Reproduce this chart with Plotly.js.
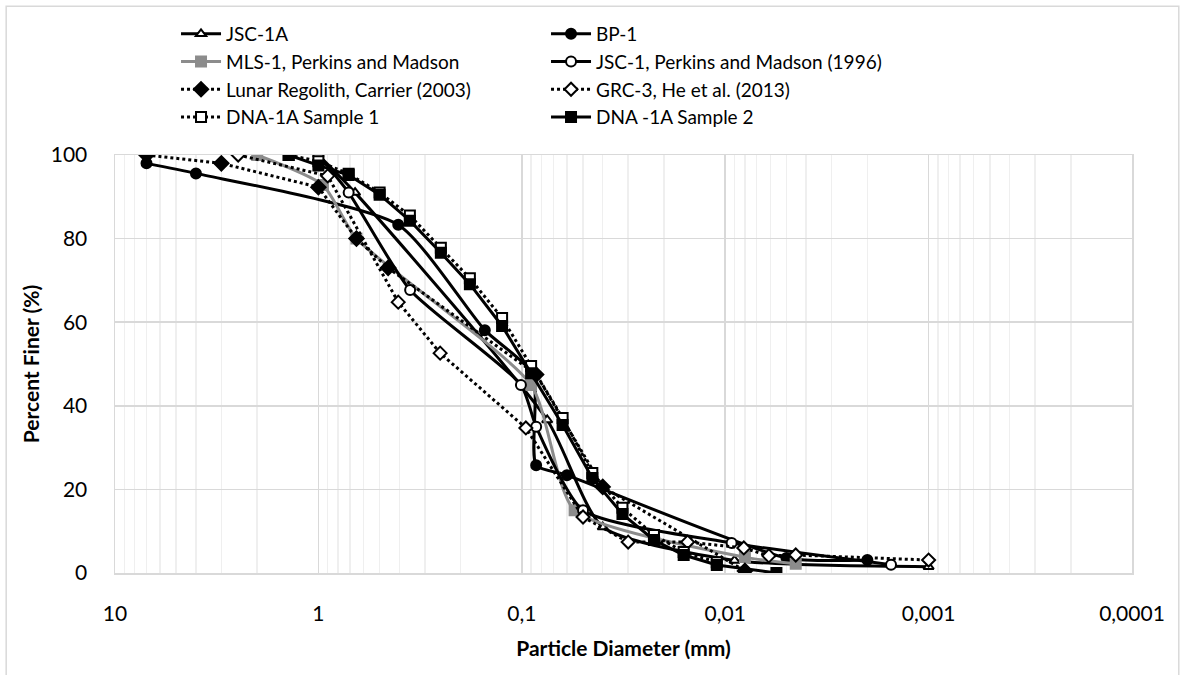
<!DOCTYPE html>
<html>
<head>
<meta charset="utf-8">
<script src="https://cdn.plot.ly/plotly-3.0.1.min.js"></script>
<style>html,body{margin:0;padding:0;background:#fff}#chart{width:1184px;height:675px}</style>
</head>
<body>
<div id="chart"></div>
<script>
// Tick labels (comma decimal separator as in the reference)
const xTickVals = [10, 1, 0.1, 0.01, 0.001, 0.0001];
const xTickText = ['10', '1', '0,1', '0,01', '0,001', '0,0001'];

// Series: particle diameter (mm) and percent finer (%)
const jsc1aX = [1.0, 0.66, 0.075, 0.04, 0.009, 0.001];
const jsc1aY = [100, 91, 36.6, 11, 3, 1.5];

const bp1X = [7.0, 4.0, 0.405, 0.152, 0.088, 0.085, 0.06, 0.005, 0.002];
const bp1Y = [98, 95.6, 83.3, 58.1, 47.5, 25.8, 23.4, 3.6, 3.1];

const mls1X = [2.0, 0.95, 0.65, 0.09, 0.055, 0.008, 0.0045];
const mls1Y = [100, 92.8, 80, 45, 15, 3.8, 2.2];

const jsc1X = [1.0, 0.71, 0.354, 0.101, 0.085, 0.05, 0.0093, 0.00153];
const jsc1Y = [100, 91, 67.7, 45, 35, 15, 7.2, 2];

const lunarX = [7.0, 3.0, 1.0, 0.65, 0.454, 0.085, 0.04, 0.008];
const lunarY = [100, 98, 92.3, 80, 73, 47.5, 20.6, 0.5];

const grc3X = [2.48, 0.9, 0.405, 0.252, 0.0955, 0.05, 0.03, 0.0153, 0.0081, 0.0061, 0.0045, 0.001];
const grc3Y = [100, 95, 64.8, 52.6, 34.7, 13.4, 7.4, 7.4, 6.0, 4.1, 4.3, 3.1];

const dna1X = [1.4, 1.0, 0.71, 0.5, 0.355, 0.25, 0.18, 0.125, 0.09, 0.063, 0.045, 0.032, 0.0224, 0.016, 0.011];
const dna1Y = [100, 98.5, 95.5, 91, 85.5, 77.8, 70.5, 61, 49.5, 37.1, 23.9, 15.6, 9.1, 5.0, 2.6];

const dna2X = [1.4, 1.0, 0.71, 0.5, 0.355, 0.25, 0.18, 0.125, 0.09, 0.063, 0.045, 0.032, 0.0224, 0.016, 0.011, 0.0056];
const dna2Y = [100, 97.5, 95.2, 90.5, 84.3, 76.6, 69.1, 59.1, 47.8, 35.4, 22.7, 14.1, 7.9, 4.3, 1.9, 0];

const names = ['JSC-1A', 'BP-1', 'MLS-1, Perkins and Madson', 'JSC-1, Perkins and Madson (1996)',
  'Lunar Regolith, Carrier (2003)', 'GRC-3, He et al. (2013)', 'DNA-1A Sample 1', 'DNA -1A Sample 2'];

const BLACK = '#000000', GRAY = '#8c8c8c';
function tr(x, y, name, color, dash, symbol, mfill, shape, msize) {
  return {
    x: x, y: y, name: name, type: 'scatter', mode: 'lines+markers',
    line: {color: color, width: 3, dash: dash, shape: shape || 'linear', smoothing: 0.6},
    marker: {symbol: symbol, size: msize || 10, color: mfill, line: {color: color, width: 2}}
  };
}
const data = [
  tr(jsc1aX, jsc1aY, names[0], BLACK, 'solid', 'triangle-up', '#ffffff', 'spline', 9),
  tr(bp1X, bp1Y, names[1], BLACK, 'solid', 'circle', BLACK, 'spline'),
  tr(mls1X, mls1Y, names[2], GRAY, 'solid', 'square', GRAY, 'spline'),
  tr(jsc1X, jsc1Y, names[3], BLACK, 'solid', 'circle', '#ffffff', 'spline'),
  tr(lunarX, lunarY, names[4], BLACK, 'dot', 'diamond', BLACK, 'linear', 11),
  tr(grc3X, grc3Y, names[5], BLACK, 'dot', 'diamond', '#ffffff', 'linear', 10),
  tr(dna1X, dna1Y, names[6], BLACK, 'dot', 'square', '#ffffff'),
  tr(dna2X, dna2Y, names[7], BLACK, 'solid', 'square', BLACK)
];

const FONT = 'Lato, "Liberation Sans", sans-serif';
const layout = {
  width: 1184, height: 675,
  margin: {l: 115, r: 52, t: 155, b: 102},
  paper_bgcolor: '#ffffff', plot_bgcolor: '#ffffff',
  font: {family: FONT, size: 21, color: '#000'},
  showlegend: true,
  legend: {
    orientation: 'h', x: 0.06, xanchor: 'left', y: 1.335, yanchor: 'top',
    entrywidth: 315, entrywidthmode: 'pixels', font: {family: FONT, size: 19, color: '#000'},
    tracegroupgap: 0, bgcolor: 'rgba(0,0,0,0)', itemwidth: 40
  },
  xaxis: {
    type: 'log', autorange: false, range: [1, -4],
    tickmode: 'array', tickvals: xTickVals, ticktext: xTickText,
    showgrid: true, gridcolor: '#d9d9d9', gridwidth: 1.5,
    minor: {tickmode: 'linear', dtick: 'D1', showgrid: true, gridcolor: '#efefef', gridwidth: 1.5, ticks: ''},
    showline: true, mirror: true, linecolor: '#d9d9d9', linewidth: 1.5,
    ticks: '', zeroline: false, ticklabelstandoff: 21,
    title: {text: '<b>Particle Diameter (mm)</b>', font: {family: FONT, size: 21}, standoff: 17}
  },
  yaxis: {
    range: [0, 100], autorange: false, dtick: 20, tick0: 0,
    showgrid: true, gridcolor: '#d9d9d9', gridwidth: 1.5,
    showline: true, mirror: true, linecolor: '#d9d9d9', linewidth: 1.5,
    ticks: '', zeroline: false, ticklabelstandoff: 22,
    title: {text: '<b>Percent Finer (%)</b>', font: {family: FONT, size: 21}, standoff: 5}
  },
  shapes: [
    {type: 'rect', xref: 'paper', yref: 'paper', x0: -0.107, x1: 1.046, y0: -0.3, y1: 1.356,
     line: {color: '#d9d9d9', width: 1.5}, fillcolor: 'rgba(0,0,0,0)', layer: 'below'}
  ]
};
Plotly.newPlot('chart', data, layout, {displayModeBar: false, staticPlot: true});
</script>
</body>
</html>
